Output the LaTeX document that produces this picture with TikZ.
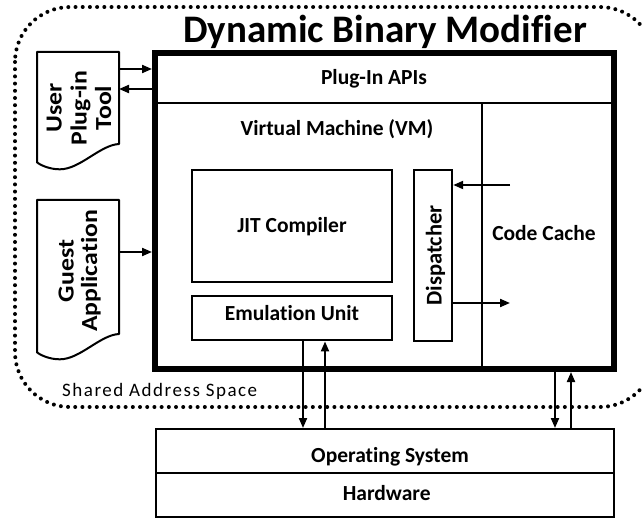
\documentclass[tikz,border=0pt]{standalone}
\usepackage{fontspec}
\setmainfont{Carlito}[Ligatures={NoCommon,NoContextual}]
\usetikzlibrary{arrows.meta}
\begin{document}
\begin{tikzpicture}[x=1pt,y=-1pt,
  box/.style={draw, line width=2pt, inner sep=0pt},
  lbl/.style={font=\bfseries\fontsize{21.5}{22.5}\selectfont, inner sep=0pt, anchor=base},
  doclbl/.style={font=\bfseries\fontsize{23}{24}\selectfont, inner sep=0pt, anchor=base, rotate=90, xscale=1.12},
  arr/.style={line width=2pt, -{Triangle[length=10pt,width=8pt]}},
  doc/.style={draw, line width=2pt, line join=round},
  dotborder/.style={line width=4pt, dash pattern=on 0pt off 7.2pt, line cap=round, rounded corners=55pt},
]
\useasboundingbox (0,0) rectangle (642,518);

% shared address space boundary
\draw[dotborder] (15,7) rectangle (655,407);
\node[font=\fontsize{19}{20}\selectfont\addfontfeature{LetterSpace=8}, inner sep=0pt, anchor=base west]
  (sas) at (62,396) {Shared Address Space};

% title
\node[font=\bfseries\fontsize{39}{40}\selectfont, inner sep=0pt, anchor=base] (title) at (385,43) {Dynamic Binary Modifier};

% dynamic binary modifier frame
\node[draw, line width=6pt, inner sep=0pt, outer sep=3pt, minimum width=459pt, minimum height=316pt]
  (dbm) at (384.5,211) {};
\coordinate (apiL) at (dbm.west |- 0,103);
\coordinate (apiR) at (dbm.east |- 0,103);
\draw[line width=2pt] (apiL) -- (apiR);
\coordinate (ccT) at (481.5,103);
\coordinate (ccB) at (dbm.south -| ccT);
\draw[line width=2pt] (ccT) -- (ccB);

\node[lbl] (api) at (374,84.5) {Plug-In APIs};
\node[lbl] (vm) at (337,135.7) {Virtual Machine (VM)};
\node[lbl] (cc) at (544,240.5) {Code Cache};

% VM components
\node[box, minimum width=200pt, minimum height=112pt] (jit) at (292,226) {};
\node[lbl] at (292,232.6) {JIT Compiler};
\node[box, minimum width=200pt, minimum height=44.5pt] (emu) at (292,318.2) {};
\node[lbl] at (292,320.7) {Emulation Unit};
\node[box, minimum width=38pt, minimum height=170.5pt] (disp) at (433.2,255.3) {};
\node[lbl, rotate=90, font=\bfseries\fontsize{22.5}{23}\selectfont] at (441.5,255.3) {Dispatcher};

% dispatcher <-> code cache
\coordinate (ccIn) at (510,185);
\coordinate (ccOut) at (510,303);
\draw[arr] (ccIn) -- (disp.east |- ccIn);
\draw[arr] (disp.east |- ccOut) -- (ccOut);

% OS / hardware
\node[box, minimum width=458pt, minimum height=88pt] (os) at (385,473) {};
\draw[line width=2pt] (os.west) -- (os.east);
\node[lbl] (ost) at (390,462.3) {Operating System};
\node[lbl] (hw) at (386.7,500) {Hardware};

% user plug-in tool
\draw[doc] (37,52) -- (119,52) -- (119,144)
  .. controls (100,145) and (80,169.3) .. (60,169.3)
  .. controls (50,169.5) and (40,165) .. (37,162.3) -- cycle;
\node[doclbl] (uptA) at (61.7,108) {User};
\node[doclbl] (uptB) at (86.5,108) {Plug-in};
\node[doclbl] (uptC) at (111,108) {Tool};
% guest application
\draw[doc] (37,200) -- (119,200) -- (119,334)
  .. controls (100,335) and (80,359.3) .. (60,359.3)
  .. controls (50,359.5) and (40,355) .. (37,352.3) -- cycle;
\node[doclbl] (guestA) at (73.5,271) {Guest};
\node[doclbl] (guestB) at (97,271) {Application};

\coordinate (uptE) at (119,69);
\coordinate (uptW) at (119,89);
\coordinate (guestE) at (119,252);
\draw[arr] (uptE) -- (dbm.west |- uptE);
\draw[arr] (dbm.west |- uptW) -- (uptW);
\draw[arr] (guestE) -- (dbm.west |- guestE);

% links to the operating system
\draw[arr] (emu.south -| 303,0) -- (os.north -| 303,0);
\draw[arr] (os.north -| 325,0) -- (emu.south -| 325,0);
\draw[arr] (dbm.south -| 555,0) -- (os.north -| 555,0);
\draw[arr] (os.north -| 571,0) -- (dbm.south -| 571,0);
\end{tikzpicture}
\end{document}
